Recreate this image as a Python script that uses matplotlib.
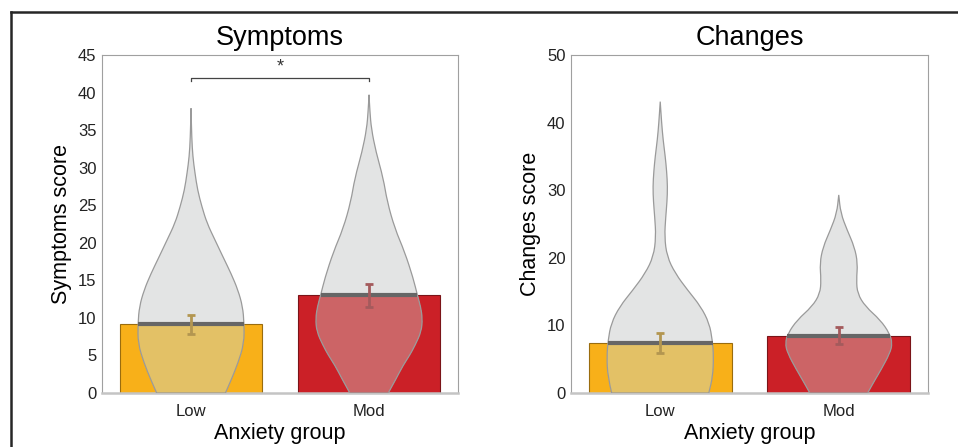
import numpy as np
import matplotlib.pyplot as plt
from matplotlib.patches import Rectangle, PathPatch
from matplotlib.path import Path
from matplotlib.lines import Line2D

plt.rcParams['font.family'] = ['Liberation Sans', 'DejaVu Sans']

groups = ['Low', 'Mod']

# symptoms panel
symptoms_mean = [9.15, 13.0]
symptoms_err_lo = [7.8, 11.5]
symptoms_err_hi = [10.4, 14.5]
# violin outlines: score level and half width (in category units)
symptoms_low_y = [0, 1.7, 4.0, 6.6, 9.3, 11.5, 13.7, 15.9, 18.1, 20.4, 22.6, 24.8, 27.0, 29.3, 31.5, 34.0, 37.9]
symptoms_low_w = [0.193, 0.225, 0.264, 0.298, 0.298, 0.29, 0.264, 0.225, 0.18, 0.134, 0.09, 0.061, 0.037, 0.022, 0.01, 0.004, 0]
symptoms_mod_y = [0, 1.8, 3.7, 5.0, 6.4, 8.2, 9.9, 11.5, 13.0, 15.3, 18.8, 21.9, 25.5, 28.6, 32.1, 35.2, 37.5, 39.7]
symptoms_mod_w = [0.108, 0.15, 0.192, 0.228, 0.26, 0.294, 0.30, 0.29, 0.272, 0.248, 0.2, 0.145, 0.102, 0.08, 0.039, 0.013, 0.005, 0]

# changes panel
changes_mean = [7.35, 8.5]
changes_err_lo = [5.9, 7.25]
changes_err_hi = [8.9, 9.8]
changes_low_y = [0, 2.4, 5.4, 7.8, 10.3, 12.8, 15.2, 17.7, 20.2, 23.1, 26.1, 28.3, 30.5, 32.8, 35.0, 37.5, 39.9, 43.1]
changes_low_w = [0.272, 0.294, 0.299, 0.292, 0.275, 0.227, 0.154, 0.084, 0.038, 0.024, 0.031, 0.038, 0.041, 0.036, 0.028, 0.016, 0.008, 0]
changes_mod_y = [0, 1.8, 3.4, 5.9, 7.35, 8.8, 10.8, 12.8, 14.7, 16.7, 19.2, 21.6, 24.1, 26.6, 29.3]
changes_mod_w = [0.162, 0.2, 0.236, 0.287, 0.30, 0.285, 0.233, 0.149, 0.105, 0.099, 0.106, 0.088, 0.047, 0.011, 0]

bar_colors = ['#f8b019', '#cb2027']
bar_edges = ['#9a6c0e', '#7a1418']
blend_colors = ['#e3c166', '#cc6466']
err_colors = ['#b39650', '#a45a5c']
violin_gray = '#e3e4e4'


def smooth_outline(c, vy, vw):
    """Closed violin outline, rounded with quadratic segments through midpoints.
    The tip vertex is repeated so the curve still runs up to it."""
    left = np.c_[c - vw, vy]
    right = np.c_[c + vw, vy][::-1]
    pts = np.r_[left, right]
    verts = [pts[0]]
    codes = [Path.MOVETO]
    for i in range(1, len(pts) - 1):
        mid = (pts[i] + pts[i + 1]) / 2
        verts += [pts[i], mid]
        codes += [Path.CURVE3, Path.CURVE3]
    verts += [pts[-1], pts[0]]
    codes += [Path.LINETO, Path.CLOSEPOLY]
    return Path(verts, codes)


def draw_panel(ax, means, lo, hi, outlines, title, ylabel, ymax, ystep):
    xs = np.arange(1, len(groups) + 1)
    ax.bar(xs, means, width=0.8, color=bar_colors, edgecolor=bar_edges,
           linewidth=0.8, zorder=1)
    for i, (vy, vw) in enumerate(outlines):
        c = xs[i]
        vy = np.array(vy)
        vw = np.array(vw)
        path = smooth_outline(c, vy, vw)
        ax.add_patch(PathPatch(path, facecolor=violin_gray, edgecolor='none', zorder=2))
        # part of the violin lying over the bar gets the mixed colour
        inner = PathPatch(path, facecolor=blend_colors[i], edgecolor='none', zorder=3)
        ax.add_patch(inner)
        inner.set_clip_path(Rectangle((c - 0.4, 0), 0.8, means[i], transform=ax.transData))
        ax.add_patch(PathPatch(path, facecolor='none', edgecolor='#9a9a9a', lw=0.9, zorder=4))
        half = np.interp(means[i], vy, vw)
        ax.plot([c - half, c + half], [means[i], means[i]], color='#666666',
                lw=3, solid_capstyle='butt', zorder=5)
        ax.errorbar(c, means[i], yerr=[[means[i] - lo[i]], [hi[i] - means[i]]],
                    fmt='none', ecolor=err_colors[i], elinewidth=2, capsize=2.8,
                    capthick=2, zorder=6)
    ax.set_xlim(0.5, 2.5)
    ax.set_ylim(0, ymax)
    ax.set_yticks(np.arange(0, ymax + 1, ystep))
    ax.set_xticks(xs)
    ax.set_xticklabels(groups)
    ax.tick_params(axis='both', length=0, labelsize=12, colors='#222222')
    ax.tick_params(axis='x', pad=8)
    ax.tick_params(axis='y', pad=4)
    for side in ['top', 'right', 'left']:
        ax.spines[side].set_color('#a0a0a0')
        ax.spines[side].set_linewidth(0.8)
    ax.spines['bottom'].set_color('#c4c4c4')
    ax.spines['bottom'].set_linewidth(1.8)
    ax.set_title(title, fontsize=19.5, pad=7)
    ax.set_ylabel(ylabel, fontsize=15.5, labelpad=4)
    ax.set_xlabel('Anxiety group', fontsize=15.5, labelpad=3)


fig = plt.figure(figsize=(9.58, 4.47), dpi=100)
ax1 = fig.add_axes([0.1065, 0.1208, 0.3716, 0.7562])
ax2 = fig.add_axes([0.596, 0.1208, 0.3727, 0.7562])

draw_panel(ax1, symptoms_mean, symptoms_err_lo, symptoms_err_hi,
           [(symptoms_low_y, symptoms_low_w), (symptoms_mod_y, symptoms_mod_w)],
           'Symptoms', 'Symptoms score', 45, 5)
draw_panel(ax2, changes_mean, changes_err_lo, changes_err_hi,
           [(changes_low_y, changes_low_w), (changes_mod_y, changes_mod_w)],
           'Changes', 'Changes score', 50, 10)

# significance bracket between Low and Mod
ax1.plot([1, 1, 2, 2], [41.5, 42.0, 42.0, 41.5], color='#444444', lw=0.9)
ax1.text(1.5, 42.3, '*', ha='center', va='bottom', fontsize=13, color='#333333')

# outer frame lines
fig.add_artist(Line2D([0.012, 1.0], [0.973, 0.973], color='#262626', lw=1.8))
fig.add_artist(Line2D([0.012, 0.012], [0.0, 0.973], color='#262626', lw=1.8))

fig.savefig('out.png', dpi=100)
